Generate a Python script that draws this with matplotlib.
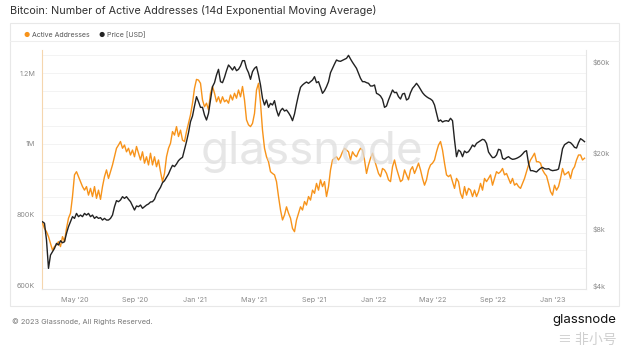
#!/usr/bin/env python3

# Bitcoin active addresses (14d EMA) vs price, glassnode style

import numpy as np
import pandas as pd
import matplotlib
matplotlib.use("Agg")
from matplotlib import pyplot as plt
from matplotlib.patches import Rectangle
from matplotlib.lines import Line2D
from matplotlib.ticker import FixedLocator, NullLocator

plt.rcParams['font.family'] = ['Inter', 'DejaVu Sans']

# readings are evenly spaced in time, roughly every 4 days
start_date = "2020-02-25"
end_date = "2023-03-06"

# active addresses, in thousands
active_k = [
    777, 762, 753, 739, 720, 701, 711, 716, 725, 711,
    739, 725, 762, 791, 805, 852, 913, 922, 908, 894,
    880, 870, 880, 856, 875, 852, 880, 847, 870, 844,
    880, 908, 927, 903, 922, 941, 964, 988, 997, 1007,
    988, 997, 978, 988, 969, 983, 964, 993, 974, 955,
    978, 946, 964, 941, 974, 941, 964, 936, 955, 922,
    894, 917, 964, 988, 1002, 1035, 1025, 1049, 1021, 1039,
    1011, 1007, 1035, 1058, 1082, 1115, 1157, 1182, 1180, 1171,
    1124, 1105, 1115, 1096, 1143, 1162, 1143, 1119, 1133, 1115,
    1133, 1119, 1124, 1115, 1138, 1124, 1143, 1129, 1152, 1133,
    1162, 1124, 1068, 1054, 1049, 1058, 1086, 1152, 1171, 1115,
    1039, 988, 964, 950, 922, 917, 913, 894, 852, 814,
    786, 800, 823, 805, 791, 762, 753, 786, 805, 823,
    814, 838, 828, 852, 842, 870, 861, 889, 870, 899,
    880, 894, 852, 880,
    927, 955, 960, 964, 955, 964, 978, 988, 983, 978,
    955, 978, 969, 964, 978, 988, 983, 955, 917, 941,
    960, 974, 955, 936, 917, 908, 931, 927, 917, 899,
    894, 936, 955, 931, 913, 894, 899, 927, 913, 899,
    927, 936, 917, 931, 946, 927, 903, 884, 899, 927,
    941, 946, 955, 978, 997, 1007, 983, 946, 913, 908,
    913, 894, 875, 903, 894, 861, 847, 880, 856, 875,
    870, 852, 870, 852, 866, 889, 870, 903, 894, 903,
    913, 884, 903, 922, 917, 922, 931, 913, 917, 903,
    889, 903, 884, 889, 880, 875, 889, 903, 922, 941,
    955, 964, 974, 950, 950, 946, 927, 917, 910, 889,
    866, 856, 884, 870, 880, 903, 931, 913, 917, 922,
    903, 927, 936, 955, 969, 969, 955, 960,
]

# price in USD
price_usd = [
    8690, 8530, 6970, 4950, 5810, 6050, 6300, 6690, 6560, 6910,
    6740, 6830, 7550, 8190, 8690, 9240, 9050, 9610, 9240, 9420,
    9240, 9610, 9420, 9610, 9240, 9420, 9050, 9240, 9050, 9130,
    8870, 9050, 8870, 8870, 9050, 9420, 10420, 11210, 11070, 11300,
    11760, 11520, 11760, 11390, 11070, 10510, 10010, 10510, 10420, 10630,
    10220, 10420, 10630, 10770, 11030, 11070, 11390, 12150, 12650, 13160,
    13920, 14260, 14850, 15460, 16360, 17170, 16900, 17450, 18170, 18610,
    18910, 20830, 22850, 25460, 29090, 31140, 35150, 39330, 37030, 34580,
    34580, 31520, 29680, 32160, 37780, 44390, 46580, 51090, 54710, 47150,
    46580, 49670, 53840, 57650, 56050, 54280, 56500, 53840, 54710, 56960,
    60750, 60750, 55380, 52560, 48490, 53200, 55380, 56500, 51090, 45290,
    38550, 35570, 37780, 34580, 36290, 35570, 37480, 33480, 31140, 33210,
    34160, 33080, 33480, 32420, 31140, 29440, 31900, 36000, 40130, 44030,
    45290, 46210, 46960, 46210, 47150, 48100, 50070, 46580, 47150, 44030,
    40950, 42280, 44390, 47150,
    52560, 55380, 58360, 61250, 60520, 60280, 61010, 61740, 62490, 64790,
    61990, 59540, 57430, 55380, 52140, 49080, 47150, 47150, 46580, 46210,
    44740, 44740, 45290, 40950, 40450, 39650, 38090, 34580, 35150, 37780,
    40130, 42630, 41280, 41450, 39330, 38240, 40620, 40950, 37780, 38390,
    41280, 43500, 44740, 46210, 44740, 42970, 41280, 40130, 39330, 38700,
    38240, 37480, 35570, 32160, 29200, 29680, 28970, 29320, 29440, 29200,
    30290, 29440, 23310, 19060, 20650, 20250, 19060, 20410, 20000, 20250,
    20990, 21940, 21500, 22390, 22750, 23120, 23500, 23310, 22390, 20160,
    19440, 18830, 18910, 19440, 20830, 20650, 18680, 18460, 18830, 19060,
    18680, 18460, 18530, 18680, 18910, 19210, 19680, 20250, 20490, 17590,
    16100, 16100, 15970, 15840, 16230, 16560, 16760, 16490, 16420, 16490,
    16230, 16100, 16160, 16230, 16420, 18310, 20990, 22030, 22390, 22750,
    22570, 22030, 21330, 21160, 22570, 23690, 23310, 22850,
]

left_ticks = [600e3, 800e3, 1e6, 1.2e6]
left_labels = ["600K", "800K", "1M", "1.2M"]
right_ticks = [4e3, 8e3, 20e3, 60e3]
right_labels = ["$4k", "$8k", "$20k", "$60k"]
x_ticks = ["2020-05-01", "2020-09-01", "2021-01-01", "2021-05-01", "2021-09-01",
           "2022-01-01", "2022-05-01", "2022-09-01", "2023-01-01"]
x_labels = ["May '20", "Sep '20", "Jan '21", "May '21", "Sep '21",
            "Jan '22", "May '22", "Sep '22", "Jan '23"]

ORANGE = "#f7931a"
DARK = "#222222"
TICK = "#8a8a8a"

W, H = 628, 352
fig = plt.figure(figsize=(W / 100, H / 100), dpi=100)

def fx(px):
    return px / W

def fy(py):
    return 1 - py / H

# card border and legend separator
fig.add_artist(Rectangle((fx(10), fy(306)), fx(609), 283 / H, transform=fig.transFigure,
                         facecolor="white", edgecolor="#e8e8e8", linewidth=0.8, zorder=0))
fig.add_artist(Line2D([fx(10), fx(619)], [fy(41), fy(41)], transform=fig.transFigure,
                      color="#eeeeee", linewidth=0.8))

fig.text(fx(10), fy(10), "Bitcoin: Number of Active Addresses (14d Exponential Moving Average)",
         fontsize=7.8, color="#333333", va="center", ha="left")

# legend
fig.text(fx(27), fy(35), "●", fontsize=5, color=ORANGE, va="center", ha="center")
fig.text(fx(32), fy(35), "Active Addresses", fontsize=5, color="#555555", va="center")
fig.text(fx(102), fy(35), "●", fontsize=5, color=DARK, va="center", ha="center")
fig.text(fx(107), fy(35), "Price [USD]", fontsize=5, color="#555555", va="center")

ax = fig.add_axes([fx(42), fy(289), fx(586) - fx(42), (289 - 50) / H])
ax2 = ax.twinx()

dates = pd.date_range(start_date, end_date, periods=len(active_k))

ax.plot(dates, np.array(active_k) * 1e3, color=ORANGE, linewidth=1.0, zorder=3)
ax2.plot(dates, price_usd, color=DARK, linewidth=1.0, zorder=3)

ax.set_ylim(591.5e3, 1264.8e3)
ax2.set_yscale("log")
ax2.set_ylim(3858, 69100)
ax.set_xlim(pd.Timestamp("2020-02-24"), pd.Timestamp("2023-03-09"))

# faint horizontal grid
for v in np.arange(650e3, 1260e3, 50e3):
    ax.axhline(v, color="#f3f3f3", linewidth=0.7, zorder=0)

ax.set_yticks(left_ticks)
ax.set_yticklabels(left_labels)
ax2.yaxis.set_major_locator(FixedLocator(right_ticks))
ax2.yaxis.set_minor_locator(NullLocator())
ax2.set_yticklabels(right_labels)
ax.set_xticks(pd.to_datetime(x_ticks))
ax.set_xticklabels(x_labels)

for a in (ax, ax2):
    a.tick_params(length=0, labelsize=5.2, labelcolor=TICK, pad=5)
    for s in a.spines.values():
        s.set_visible(False)
ax.spines["left"].set_visible(True)
ax.spines["left"].set_color("#f5d6ae")
ax.spines["left"].set_linewidth(0.8)
ax.spines["bottom"].set_visible(True)
ax.spines["bottom"].set_color("#e6e6e6")
ax.spines["bottom"].set_linewidth(0.8)
ax2.spines["right"].set_visible(True)
ax2.spines["right"].set_color("#e6e6e6")
ax2.spines["right"].set_linewidth(0.8)
ax.tick_params(axis="x", pad=6)
ax.patch.set_alpha(0)

# watermark
fig.text(fx(312), fy(152), "glassnode", fontsize=33, color="#dedede", alpha=0.75,
         ha="center", va="center", zorder=1)

# footer
fig.text(fx(12), fy(322), "© 2023 Glassnode, All Rights Reserved.", fontsize=5.3,
         color="#777777", va="center")
fig.text(fx(616), fy(320), "glassnode", fontsize=9.5, color="#111111", ha="right", va="center")
fig.text(fx(617), fy(340), "≡ 非小号", fontsize=10, color="#d0d0d0", ha="right", va="center",
         family=["Noto Sans CJK SC", "DejaVu Sans"])

fig.savefig("out.png", dpi=100)
